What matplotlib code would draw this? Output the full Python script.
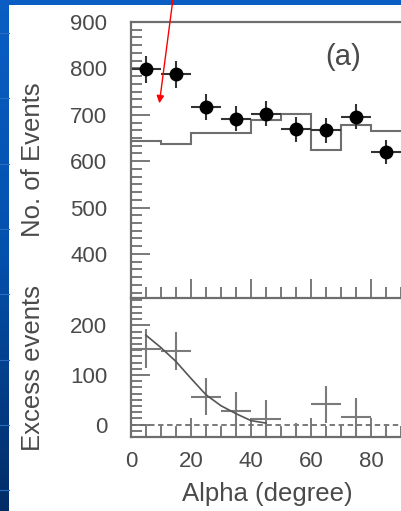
import numpy as np
import matplotlib.pyplot as plt
from matplotlib.colors import LinearSegmentedColormap
from matplotlib.patches import Rectangle, FancyArrowPatch
from matplotlib.ticker import MultipleLocator, AutoMinorLocator, NullFormatter

plt.rcParams['font.family'] = ['Liberation Sans', 'DejaVu Sans']

# alpha bins (degree)
bin_edges = [0, 10, 20, 30, 40, 50, 60, 70, 80, 90]
bin_centers = [5, 15, 25, 35, 45, 55, 65, 75, 85]

# upper panel: on-source events and background histogram
on_events = [798, 787, 717, 691, 702, 669, 667, 696, 619]
on_errors = [29, 29, 28, 27, 27, 27, 27, 27, 26]
background = [644, 638, 660, 660, 689, 702, 624, 678, 664]

# lower panel: excess events
excess = [153, 148, 56, 27, 12, -33, 41, 16, -45]
excess_err = [40, 38, 37, 38, 37, 37, 37, 38, 37]

# fitted curve
fit_x = [5, 10, 15, 20, 25, 30, 35, 40, 45]
fit_y = [180, 155, 127, 93, 60, 38, 22, 8, 3]

W, H = 401, 511
LINE = '#6e6e6e'
TEXT = '#4a4a4a'

fig = plt.figure(figsize=(W / 100, H / 100), dpi=100)

# slide background: blue strips round a white page
bg = fig.add_axes([0, 0, 1, 1], zorder=-5)
grad = np.linspace(0, 1, 256).reshape(-1, 1)
slide_cmap = LinearSegmentedColormap.from_list('slide', ['#0a5ec4', '#0450ad', '#022c66'])
bg.imshow(grad, aspect='auto', extent=[0, 1, 0, 1], origin='upper', cmap=slide_cmap)
for yy in np.arange(33, H, 65.3):
    bg.axhline(1 - yy / H, xmin=0, xmax=9 / W, color='#2a6cc0', lw=0.8)
bg.add_patch(Rectangle((9 / W, 0), 1, 1 - 5 / H, color='white', lw=0))
bg.set_xlim(0, 1)
bg.set_ylim(0, 1)
bg.axis('off')

left, width = 131 / W, 273 / W
ax1 = fig.add_axes([left, (H - 298) / H, width, 276 / H])
ax2 = fig.add_axes([left, (H - 437) / H, width, 139 / H])

for ax in (ax1, ax2):
    ax.set_facecolor('none')
    ax.set_xlim(0, 91)
    for side in ('left', 'top', 'bottom'):
        ax.spines[side].set_color(LINE)
        ax.spines[side].set_linewidth(1.6)
    ax.spines['right'].set_visible(False)
    ax.xaxis.set_major_locator(MultipleLocator(20))
    ax.xaxis.set_minor_locator(MultipleLocator(5))
    ax.tick_params(which='both', direction='in', color=LINE, width=1.3,
                   labelcolor=TEXT, labelsize=16, right=False, top=False)
    ax.tick_params(which='major', length=14)
    ax.tick_params(which='minor', length=8)
    ax.tick_params(axis='y', pad=17)

# upper panel
ax1.stairs(background, bin_edges, baseline=None, color=LINE, lw=1.5)
ax1.errorbar(bin_centers, on_events, yerr=on_errors, xerr=5, fmt='o',
             color='black', ms=9, elinewidth=1.5, ecolor='#333333', capsize=0)
ax1.set_ylim(305, 900)
ax1.yaxis.set_major_locator(MultipleLocator(100))
ax1.yaxis.set_minor_locator(AutoMinorLocator(6))
ax1.xaxis.set_major_formatter(NullFormatter())
ax1.set_ylabel('No. of Events', fontsize=18.5, color=TEXT)
ax1.text(0.777, 0.873, '(a)', transform=ax1.transAxes, fontsize=21,
         color=TEXT, ha='center', va='center')

# lower panel
ax2.axhline(0, color=LINE, lw=1.3, ls=(0, (3, 2)))
ax2.errorbar(bin_centers, excess, yerr=excess_err, xerr=5, fmt='none',
             ecolor='#7a7a7a', elinewidth=1.5, capsize=0)
ax2.plot(fit_x, fit_y, color='#555555', lw=1.2)
ax2.set_ylim(-25, 255)
ax2.yaxis.set_major_locator(MultipleLocator(100))
ax2.yaxis.set_minor_locator(AutoMinorLocator(8))
ax2.spines['top'].set_visible(False)
ax2.tick_params(axis='x', pad=10)
ax2.set_ylabel('Excess events', fontsize=18.5, color=TEXT)
ax2.set_xlabel('Alpha (degree)', fontsize=18.5, color=TEXT, labelpad=7)

ax1.yaxis.set_label_coords(-0.315, 0.5)
ax2.yaxis.set_label_coords(-0.315, 0.5)

# red arrow drawn on the slide
fig.add_artist(FancyArrowPatch(
    (173.5 / W, 1.01), (159 / W, (H - 106) / H), transform=fig.transFigure,
    arrowstyle='-|>', mutation_scale=11, color='red', lw=1.0))

fig.savefig('out.png', dpi=100)
